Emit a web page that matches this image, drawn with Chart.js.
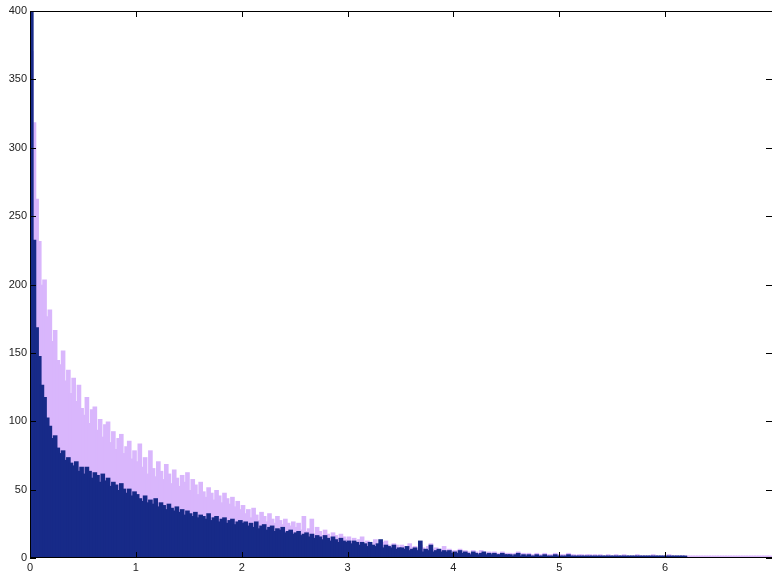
<!DOCTYPE html>
<html>
<head>
<meta charset="utf-8">
<script src="https://cdn.jsdelivr.net/npm/chart.js@4.4.0/dist/chart.umd.min.js"></script>
<style>
  html, body { margin: 0; padding: 0; background: #fff; overflow: hidden; }
  #wrap { width: 772px; height: 573px; }
</style>
</head>
<body>
<div id="wrap"><canvas id="chart" width="772" height="573"></canvas></div>
<script>
// histogram bins: 0 .. 7 in steps of 0.025
const binStart = 0;
const binWidth = 0.025;

// dark blue series (drawn in front)
const innerCounts = [
  420, 232, 168, 147, 126, 117, 102, 96, 87, 89, 80, 76, 78, 71, 73, 69, 67, 70, 63, 66,
  61, 66, 63, 58, 62, 60, 55, 61, 56, 58, 52, 55, 53, 49, 54, 50, 47, 50, 45, 48,
  46, 43, 41, 45, 40, 42, 39, 43, 37, 40, 38, 35, 39, 36, 34, 37, 33, 35, 31, 34,
  32, 30, 33, 29, 31, 30, 28, 32, 27, 29, 30, 26, 28, 29, 25, 27, 28, 24, 26, 27,
  25, 26, 23, 25, 22, 26, 21, 23, 24, 20, 22, 23, 19, 21, 20, 22, 18, 19, 20, 17,
  18, 19, 16, 17, 18, 15, 17, 14, 16, 15, 13, 16, 14, 12, 15, 13, 11, 14, 12, 11,
  12, 10, 12, 11, 9, 11, 10, 8, 11, 9, 8, 10, 13, 7, 9, 8, 7, 9, 6, 7,
  7, 6, 8, 5, 6, 7, 5, 12, 4, 6, 5, 9, 4, 5, 6, 4, 5, 4, 5, 3,
  4, 3, 5, 3, 4, 3, 2, 4, 3, 2, 3, 4, 2, 3, 2, 3, 2, 2, 3, 2,
  2, 2, 1, 2, 3, 1, 2, 1, 2, 1, 1, 2, 1, 1, 2, 1, 1, 1, 2, 1,
  1, 1, 1, 2, 1, 1, 1, 1, 1, 1, 1, 1, 1, 1, 1, 1, 1, 1, 1, 1,
  1, 1, 1, 1, 1, 1, 1, 1, 1, 1, 1, 1, 1, 1, 1, 1, 1, 1, 1, 1,
  1, 1, 1, 1, 1, 1, 1, 1, 0, 0, 0, 0, 0, 0, 0, 0, 0, 0, 0, 0,
  0, 0, 0, 0, 0, 0, 0, 0, 0, 0, 0, 0, 0, 0, 0, 0, 0, 0, 0, 0
];

// lilac series (behind)
const outerCounts = [
  370, 318, 262, 231, 199, 203, 176, 181, 158, 166, 144, 141, 151, 129, 137, 120, 131, 114, 126, 109,
  104, 117, 98, 108, 110, 93, 101, 88, 97, 99, 84, 92, 79, 87, 90, 76, 81, 85, 72, 78,
  70, 83, 66, 73, 61, 78, 65, 59, 70, 63, 57, 68, 61, 54, 64, 58, 52, 60, 55, 62,
  49, 57, 53, 46, 55, 48, 44, 51, 47, 42, 49, 45, 40, 47, 43, 39, 44, 37, 41, 35,
  38, 32, 35, 29, 36, 31, 27, 33, 30, 26, 32, 28, 25, 30, 27, 24, 28, 25, 23, 26,
  22, 25, 20, 30, 19, 21, 28, 17, 22, 19, 16, 20, 17, 15, 18, 16, 14, 17, 15, 13,
  15, 12, 14, 11, 13, 15, 10, 12, 11, 9, 13, 10, 8, 11, 12, 9, 8, 10, 9, 7,
  9, 8, 6, 10, 7, 8, 6, 9, 7, 5, 8, 10, 6, 7, 5, 6, 8, 5, 6, 4,
  5, 4, 6, 4, 5, 4, 3, 5, 4, 3, 5, 4, 3, 4, 3, 4, 3, 3, 4, 3,
  3, 3, 2, 3, 4, 2, 3, 2, 3, 2, 2, 3, 2, 2, 3, 2, 2, 2, 3, 2,
  2, 2, 2, 3, 2, 2, 1, 2, 2, 1, 2, 2, 1, 2, 1, 2, 1, 1, 2, 1,
  1, 2, 1, 1, 2, 1, 1, 1, 1, 2, 1, 1, 1, 1, 1, 2, 1, 1, 1, 1,
  1, 2, 1, 1, 1, 1, 1, 1, 1, 1, 1, 1, 1, 1, 1, 1, 1, 1, 1, 1,
  1, 1, 1, 1, 1, 1, 1, 1, 1, 1, 1, 1, 1, 1, 1, 1, 1, 1, 1, 1
];

const binCenters = innerCounts.map((_, i) => binStart + binWidth * (i + 0.5));

const xTicks = [0, 1, 2, 3, 4, 5, 6];
const yTicks = [0, 50, 100, 150, 200, 250, 300, 350, 400];

// matlab style box: inward ticks on all four sides, drawn over the bars
const axisBox = {
  id: 'axisBox',
  afterDatasetsDraw(chart) {
    const { ctx, chartArea: a, scales: { x, y } } = chart;
    const len = 6;
    ctx.save();
    ctx.strokeStyle = '#000';
    ctx.lineWidth = 1;
    ctx.beginPath();
    ctx.moveTo(a.left, a.top + 0.5); ctx.lineTo(a.right, a.top + 0.5);
    ctx.moveTo(a.left + 0.5, a.top); ctx.lineTo(a.left + 0.5, a.bottom);
    ctx.moveTo(a.left, a.bottom - 0.5); ctx.lineTo(a.right, a.bottom - 0.5);
    xTicks.forEach(v => {
      const px = Math.round(x.getPixelForValue(v)) + 0.5;
      ctx.moveTo(px, a.top); ctx.lineTo(px, a.top + len);
      ctx.moveTo(px, a.bottom); ctx.lineTo(px, a.bottom - len);
    });
    yTicks.forEach(v => {
      const py = Math.round(y.getPixelForValue(v)) + 0.5;
      ctx.moveTo(a.left, py); ctx.lineTo(a.left + len, py);
      ctx.moveTo(a.right, py); ctx.lineTo(a.right - len, py);
    });
    ctx.stroke();
    ctx.restore();
  }
};

const tickFont = { family: '"Liberation Sans", Arial, sans-serif', size: 11 };

new Chart(document.getElementById('chart'), {
  type: 'bar',
  data: {
    datasets: [
      {
        data: binCenters.map((c, i) => ({ x: c, y: innerCounts[i] })),
        backgroundColor: '#172a88',
        borderWidth: 0,
        inflateAmount: 1,
        barPercentage: 1,
        categoryPercentage: 1,
        grouped: false
      },
      {
        data: binCenters.map((c, i) => ({ x: c, y: outerCounts[i] })),
        backgroundColor: '#d9b6fc',
        borderWidth: 0,
        inflateAmount: 1,
        barPercentage: 1,
        categoryPercentage: 1,
        grouped: false
      }
    ]
  },
  options: {
    responsive: false,
    devicePixelRatio: 1,
    animation: false,
    layout: { padding: { top: 11, right: 0, left: 0, bottom: 0 } },
    plugins: { legend: { display: false }, tooltip: { enabled: false } },
    scales: {
      x: {
        type: 'linear',
        min: 0,
        max: 7.01,
        offset: false,
        grid: { display: false, drawTicks: false },
        border: { display: false },
        afterBuildTicks: s => { s.ticks = xTicks.map(v => ({ value: v })); },
        afterFit: s => { s.height = 15; },
        ticks: { font: tickFont, color: '#222', padding: 3, maxRotation: 0, autoSkip: false }
      },
      y: {
        min: 0,
        max: 400,
        grid: { display: false, drawTicks: false },
        border: { display: false },
        afterBuildTicks: s => { s.ticks = yTicks.map(v => ({ value: v })); },
        afterFit: s => { s.width = 30; },
        ticks: { font: tickFont, color: '#222', padding: 3 }
      }
    }
  },
  plugins: [axisBox]
});
</script>
</body>
</html>
